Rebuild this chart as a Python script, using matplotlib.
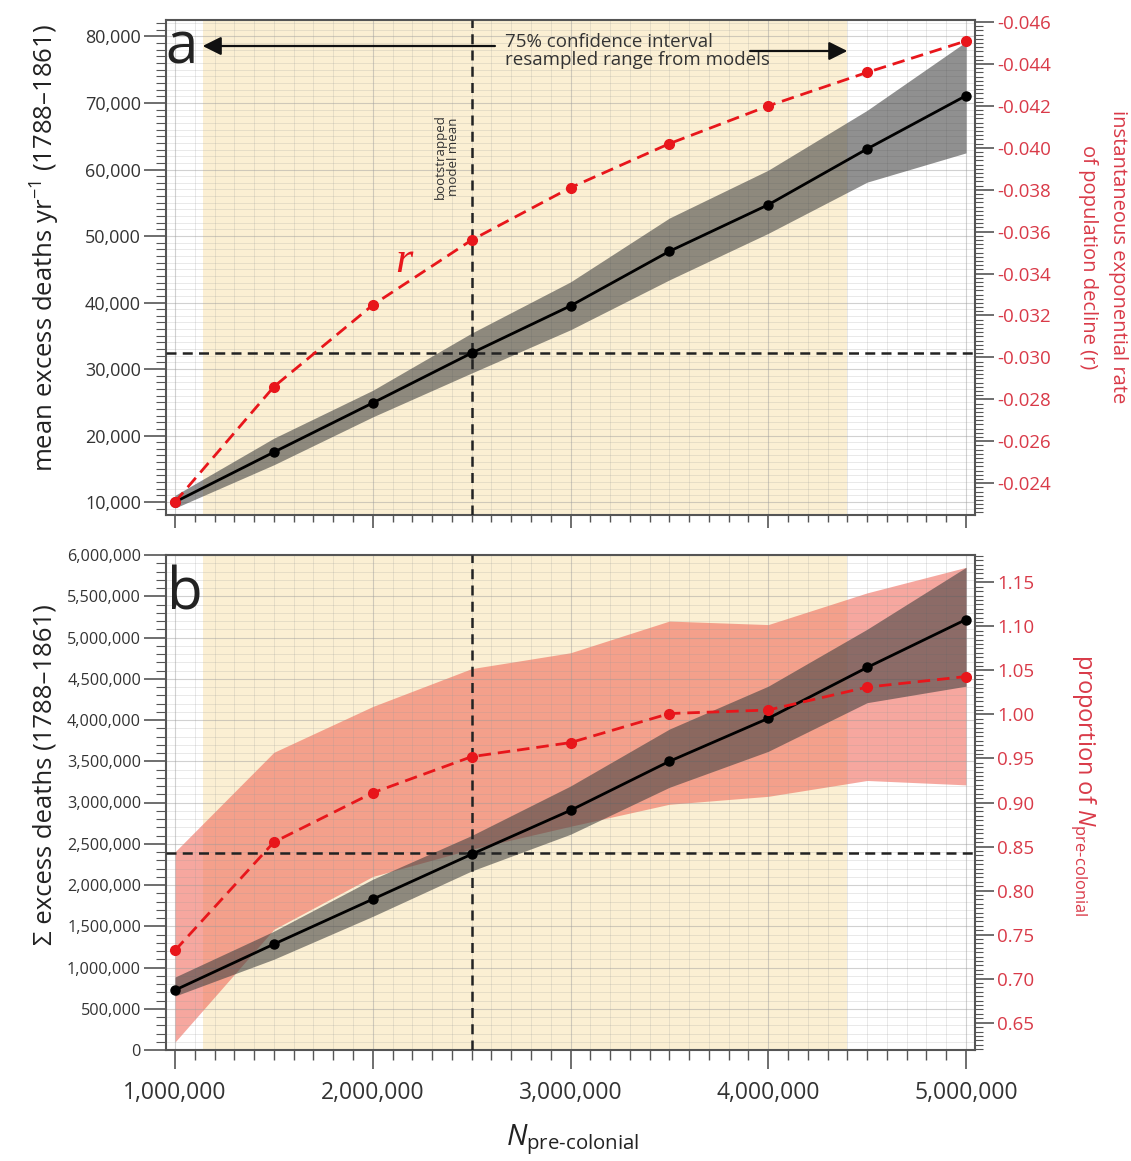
import matplotlib
matplotlib.use("Agg")
import matplotlib.pyplot as plt
from matplotlib.ticker import MultipleLocator, FuncFormatter

# ---------------- data ----------------
n_pre = [1.0e6, 1.5e6, 2.0e6, 2.5e6, 3.0e6, 3.5e6, 4.0e6, 4.5e6, 5.0e6]

# panel a
mean_deaths = [10000, 17500, 24900, 32400, 39500, 47700, 54700, 63100, 71100]
mean_deaths_lo = [9100, 15600, 22800, 29400, 35900, 43400, 50400, 58100, 62500]
mean_deaths_hi = [11000, 19600, 26800, 35400, 43100, 52700, 59900, 68900, 79200]
r_rate = [-0.0231, -0.0286, -0.0325, -0.0356, -0.0381, -0.0402, -0.0420, -0.0436, -0.0451]

# panel b
total_deaths = [726000, 1283000, 1828000, 2373000, 2905000, 3499000, 4020000, 4637000, 5218000]
total_deaths_lo = [654000, 1100000, 1620000, 2170000, 2615000, 3184000, 3620000, 4210000, 4410000]
total_deaths_hi = [884000, 1440000, 2070000, 2600000, 3200000, 3890000, 4410000, 5100000, 5850000]
prop_n = [0.732, 0.855, 0.911, 0.952, 0.968, 1.001, 1.005, 1.031, 1.043]
prop_n_lo = [0.628, 0.756, 0.816, 0.847, 0.873, 0.898, 0.907, 0.925, 0.920]
prop_n_hi = [0.844, 0.957, 1.009, 1.052, 1.070, 1.106, 1.102, 1.138, 1.167]

# reference values
ci_range = [1.14e6, 4.40e6]
boot_mean_n = 2.5e6
boot_mean_deaths = 32400
boot_total_deaths = 2390000

# ---------------- style ----------------
FONT = ['Open Sans', 'DejaVu Sans']
plt.rcParams['font.family'] = FONT
plt.rcParams['mathtext.fontset'] = 'custom'
plt.rcParams['mathtext.rm'] = 'Open Sans'
plt.rcParams['mathtext.it'] = 'Open Sans:italic'
plt.rcParams['mathtext.bf'] = 'Open Sans:bold'

BEIGE = '#FBEFD3'
GREY_BAND = '#404040'
RED_BAND = '#F06050'
RED = '#E8161B'
RED_TXT = '#D93A48'
SPINE = '#555555'
TXT = '#333333'

W, H = 1131, 1161
fig = plt.figure(figsize=(W / 100, H / 100), dpi=100)


def px_rect(left, top, right, bottom):
    return [left / W, 1 - bottom / H, (right - left) / W, (bottom - top) / H]


def fx(x):
    return x / W


def fy(y):
    return 1 - y / H


XLIM = (0.9545e6, 5.0455e6)


def make_panel(rect, ylim_l, ylim_r, l_major, l_minor, r_major, r_minor,
               l_fmt, r_fmt, l_size, show_xlabels):
    axR = fig.add_axes(rect)
    ax = fig.add_axes(rect)
    axT = fig.add_axes(rect)
    axR.set_zorder(0)
    ax.set_zorder(1)
    axT.set_zorder(2)
    for a in (axR, ax, axT):
        a.set_xlim(*XLIM)
    axR.patch.set_facecolor('white')
    ax.patch.set_visible(False)
    axT.patch.set_visible(False)
    axT.axis('off')

    # background CI span
    axR.axvspan(ci_range[0], ci_range[1], color=BEIGE, lw=0, zorder=0)

    # right axis
    axR.set_ylim(*ylim_r)
    axT.set_ylim(*ylim_r)
    axR.yaxis.tick_right()
    axR.yaxis.set_major_locator(MultipleLocator(r_major))
    axR.yaxis.set_minor_locator(MultipleLocator(r_minor))
    axR.yaxis.set_major_formatter(FuncFormatter(r_fmt))
    axR.tick_params(axis='y', which='major', length=14, width=1.2, color=SPINE,
                    labelcolor=RED_TXT, labelsize=13.5, pad=2, direction='out')
    axR.tick_params(axis='y', which='minor', length=6, width=0.8, color=SPINE,
                    direction='out')
    axR.tick_params(axis='x', which='both', bottom=False, labelbottom=False)
    for s in axR.spines.values():
        s.set_visible(False)

    # left axis
    ax.set_ylim(*ylim_l)
    ax.yaxis.tick_left()
    ax.yaxis.set_major_locator(MultipleLocator(l_major))
    ax.yaxis.set_minor_locator(MultipleLocator(l_minor))
    ax.yaxis.set_major_formatter(FuncFormatter(l_fmt))
    ax.xaxis.set_major_locator(MultipleLocator(1e6))
    ax.xaxis.set_minor_locator(MultipleLocator(1e5))
    ax.xaxis.set_major_formatter(FuncFormatter(lambda v, p: f'{v:,.0f}'))
    ax.tick_params(axis='y', which='major', length=16, width=1.2, color=SPINE,
                   labelcolor=TXT, labelsize=l_size, pad=2, direction='out')
    ax.tick_params(axis='y', which='minor', length=7, width=0.8, color=SPINE,
                   direction='out')
    ax.tick_params(axis='x', which='major', length=14 if show_xlabels else 9,
                   width=1.2, color=SPINE, labelcolor=TXT, labelsize=16.5,
                   pad=8, direction='out', labelbottom=show_xlabels)
    ax.tick_params(axis='x', which='minor', length=7 if show_xlabels else 5,
                   width=1.0, color=SPINE, direction='out')
    for s in ax.spines.values():
        s.set_color(SPINE)
        s.set_linewidth(1.5)

    ax.set_axisbelow(True)
    ax.grid(which='major', color='#9a9a9a', lw=0.8, alpha=0.45)
    ax.grid(which='minor', color='#9a9a9a', lw=0.5, alpha=0.3)
    return axR, ax, axT


# ---------------- panel a ----------------
axRa, axa, axTa = make_panel(
    px_rect(166, 20, 975, 515), (8050, 82480), (-0.02248, -0.0461),
    10000, 1000, 0.002, 0.0002,
    lambda v, p: f'{v:,.0f}', lambda v, p: f'{v:.3f}', 13, False)

axa.fill_between(n_pre, mean_deaths_lo, mean_deaths_hi, color=GREY_BAND,
                 alpha=0.58, lw=0, zorder=1)
axa.axvline(boot_mean_n, color='#222222', lw=1.8, dashes=(4, 2.5), zorder=3)
axa.axhline(boot_mean_deaths, color='#222222', lw=1.8, dashes=(4, 2.5), zorder=3)
axa.plot(n_pre, mean_deaths, '-o', color='black', lw=2, ms=6.5, zorder=4)
axTa.plot(n_pre, r_rate, '--o', color=RED, lw=2, ms=7, dashes=(4.5, 2.5),
          zorder=4)

axa.text(0.0198, 0.913, 'a', transform=axa.transAxes, fontsize=42,
         ha='center', va='baseline', color='#222222')
axa.text(2.158e6, 44600, 'r', fontsize=32, color=RED,
         family=['Liberation Serif', 'DejaVu Serif'], style='italic',
         ha='center', va='baseline')
axa.text(2.375e6, 61880, 'bootstrapped\nmodel mean', rotation=90,
         fontsize=9.5, color=TXT, ha='center', va='center', linespacing=1.0,
         multialignment='center')
axa.annotate('', xy=(ci_range[0], 78570), xytext=(2.618e6, 78570),
             arrowprops=dict(arrowstyle='-|>', color='#111111', lw=1.6,
                             mutation_scale=28, shrinkA=0, shrinkB=0),
             zorder=5)
axa.annotate('', xy=(ci_range[1], 77820), xytext=(3.908e6, 77820),
             arrowprops=dict(arrowstyle='-|>', color='#111111', lw=1.6,
                             mutation_scale=28, shrinkA=0, shrinkB=0),
             zorder=5)
axa.text(2.669e6, 77820, '75% confidence interval\nresampled range from models',
         fontsize=13.5, color=TXT, ha='left', va='center', linespacing=1.05)

# ---------------- panel b ----------------
axRb, axb, axTb = make_panel(
    px_rect(166, 555, 975, 1050), (0, 6000000), (0.619, 1.181),
    500000, 100000, 0.05, 0.005,
    lambda v, p: f'{v:,.0f}', lambda v, p: f'{v:.2f}', 11.7, True)

axRb.fill_between(n_pre, prop_n_lo, prop_n_hi, color=RED_BAND, alpha=0.55,
                  lw=0, zorder=1)
axb.fill_between(n_pre, total_deaths_lo, total_deaths_hi, color=GREY_BAND,
                 alpha=0.58, lw=0, zorder=1)
axb.axvline(boot_mean_n, color='#222222', lw=1.8, dashes=(4, 2.5), zorder=3)
axb.axhline(boot_total_deaths, color='#222222', lw=1.8, dashes=(4, 2.5),
            zorder=3)
axb.plot(n_pre, total_deaths, '-o', color='black', lw=2, ms=6.5, zorder=4)
axTb.plot(n_pre, prop_n, '--o', color=RED, lw=2, ms=7, dashes=(4.5, 2.5),
          zorder=4)
axb.text(0.0235, 0.889, 'b', transform=axb.transAxes, fontsize=42,
         ha='center', va='baseline', color='#222222')

# ---------------- axis titles ----------------
fig.text(fx(45), fy(248), r'mean excess deaths yr$^{-1}$ (1788–1861)',
         rotation=90, ha='center', va='center', fontsize=18.5, color='#222222')
fig.text(fx(45), fy(775), 'Σ excess deaths (1788–1861)',
         rotation=90, ha='center', va='center', fontsize=18.5, color='#222222')
fig.text(fx(1103), fy(257), 'instantaneous exponential rate\nof population decline (r)',
         rotation=270, ha='center', va='center', fontsize=14.5, color=RED_TXT,
         linespacing=1.6, multialignment='center')
fig.text(fx(1083), fy(785), r'proportion of $N_{\mathrm{pre}\text{-}\mathrm{colonial}}$',
         rotation=270, ha='center', va='center', fontsize=17, color=RED_TXT)
fig.text(fx(573), fy(1140), r'$N_{\mathrm{pre}\text{-}\mathrm{colonial}}$',
         ha='center', va='center', fontsize=21, color='#222222')

fig.savefig('out.png', dpi=100)
